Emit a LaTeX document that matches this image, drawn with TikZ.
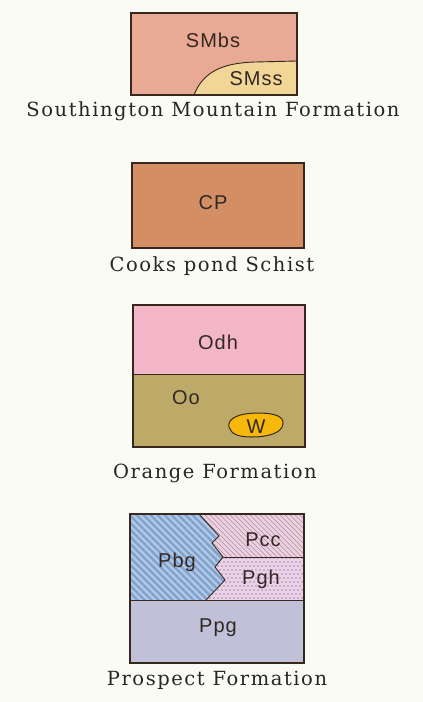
\documentclass[tikz,border=0pt]{standalone}
\usepackage{fontspec}
\setmainfont{Latin Modern Roman}
\newfontfamily\lblfont[LetterSpace=5]{Liberation Sans}
\newfontfamily\capfont[LetterSpace=8]{DejaVu Serif}
\definecolor{bgc}{RGB}{251,251,246}
\definecolor{edge}{RGB}{55,40,30}
\definecolor{smbs}{RGB}{232,170,148}
\definecolor{smss}{RGB}{242,214,152}
\definecolor{cpc}{RGB}{212,142,100}
\definecolor{odh}{RGB}{242,182,200}
\definecolor{ooc}{RGB}{190,170,104}
\definecolor{wc}{RGB}{246,184,10}
\definecolor{pbg}{RGB}{128,162,208}
\definecolor{pbgs}{RGB}{178,200,226}
\definecolor{pcc}{RGB}{236,208,222}
\definecolor{pccs}{RGB}{175,145,170}
\definecolor{pgh}{RGB}{238,208,226}
\definecolor{pghd}{RGB}{130,150,205}
\definecolor{ppg}{RGB}{192,192,216}
\definecolor{txt}{RGB}{50,40,35}
\tikzset{
  lab/.style={font=\lblfont\fontsize{20}{20}\selectfont, text=txt, inner sep=0pt},
  captxt/.style={font=\capfont\fontsize{19.5}{20}\selectfont, text=black!85, inner sep=0pt},
  frame/.style={draw=edge, line width=1.1pt},
  inner/.style={draw=edge, line width=0.9pt}
}
\begin{document}
\begin{tikzpicture}[x=1pt,y=-1pt]
\fill[bgc] (0,0) rectangle (423,702);
\useasboundingbox (0,0) rectangle (423,702);

% ---------- Southington Mountain Formation
\fill[smbs] (131,13) rectangle (297,95);
\fill[smss] (194,95) .. controls (203,72) and (222,63) .. (255,62) -- (297,61) -- (297,95) -- cycle;
\draw[inner] (194,95) .. controls (203,72) and (222,63) .. (255,62) -- (297,61);
\draw[frame] (131,13) rectangle (297,95);
\node[lab] (tsmbs) at (213,40) {SMbs};
\node[lab] (tsmss) at (256,79) {SMss};
\node[captxt] (c1) at (213,111) {Southington Mountain Formation};

% ---------- Cooks pond Schist
\fill[cpc] (132,163) rectangle (304,248);
\draw[frame] (132,163) rectangle (304,248);
\node[lab] (tcp) at (213,203) {CP};
\node[captxt] (c2) at (212,266) {Cooks pond Schist};

% ---------- Orange Formation
\fill[odh] (133,305) rectangle (305,374);
\fill[ooc] (133,374) rectangle (305,447);
\draw[inner] (133,374) -- (305,374);
\draw[frame] (133,305) rectangle (305,447);
\filldraw[fill=wc, draw=edge, line width=1pt]
  (229,427) .. controls (227,418) and (240,413) .. (258,413)
  .. controls (276,413) and (284,417) .. (283,424)
  .. controls (282,433) and (268,437) .. (252,437)
  .. controls (238,437) and (231,434) .. (229,427) -- cycle;
\node[lab] (todh) at (218,342) {Odh};
\node[lab] (too) at (186,398) {Oo};
\node[lab] (tw) at (256,427) {W};
\node[captxt] (c3) at (215,473) {Orange Formation};

% ---------- Prospect Formation
% Pbg
\begin{scope}
\clip (130,514) -- (199,514) -- (219,536) -- (212,543) -- (223,557) -- (215,567) -- (225,580) -- (206,600) -- (130,600) -- cycle;
\fill[pbg] (130,514) rectangle (230,600);
\foreach \i in {0,7,...,210} {
  \draw[pbgs, line width=2.2pt] (\i+20,500) -- (\i+140,620);
}
\end{scope}
% Pcc
\begin{scope}
\clip (199,514) -- (304,514) -- (304,557) -- (223,557) -- (212,543) -- (219,536) -- cycle;
\fill[pcc] (195,510) rectangle (304,560);
\foreach \i in {0,5,...,170} {
  \draw[pccs, line width=0.6pt] (\i+140,500) -- (\i+210,570);
}
\end{scope}
% Pgh
\begin{scope}
\clip (223,557) -- (304,557) -- (304,600) -- (206,600) -- (225,580) -- (215,567) -- cycle;
\fill[pgh] (200,555) rectangle (304,600);
\foreach \yy [count=\k] in {558,562,...,600} {
  \pgfmathsetmacro{\off}{mod(\k,2)*2}
  \foreach \xx in {204,208,...,304} {
    \fill[pghd] (\xx+\off,\yy) circle (0.85);
  }
}
\end{scope}
% Ppg
\fill[ppg] (130,600) rectangle (304,663);
% lines
\draw[inner] (199,514) -- (219,536) -- (212,543) -- (223,557) -- (215,567) -- (225,580) -- (206,600);
\draw[inner] (223,557) -- (304,557);
\draw[inner] (130,600) -- (304,600);
\draw[frame] (130,514) rectangle (304,663);
\node[lab] (tpcc) at (263,540) {Pcc};
\node[lab] (tpbg) at (177,562) {Pbg};
\node[lab] (tpgh) at (261,579) {Pgh};
\node[lab] (tppg) at (218,628) {Ppg};
\node[captxt] (c4) at (217,680) {Prospect Formation};
\end{tikzpicture}
\end{document}
